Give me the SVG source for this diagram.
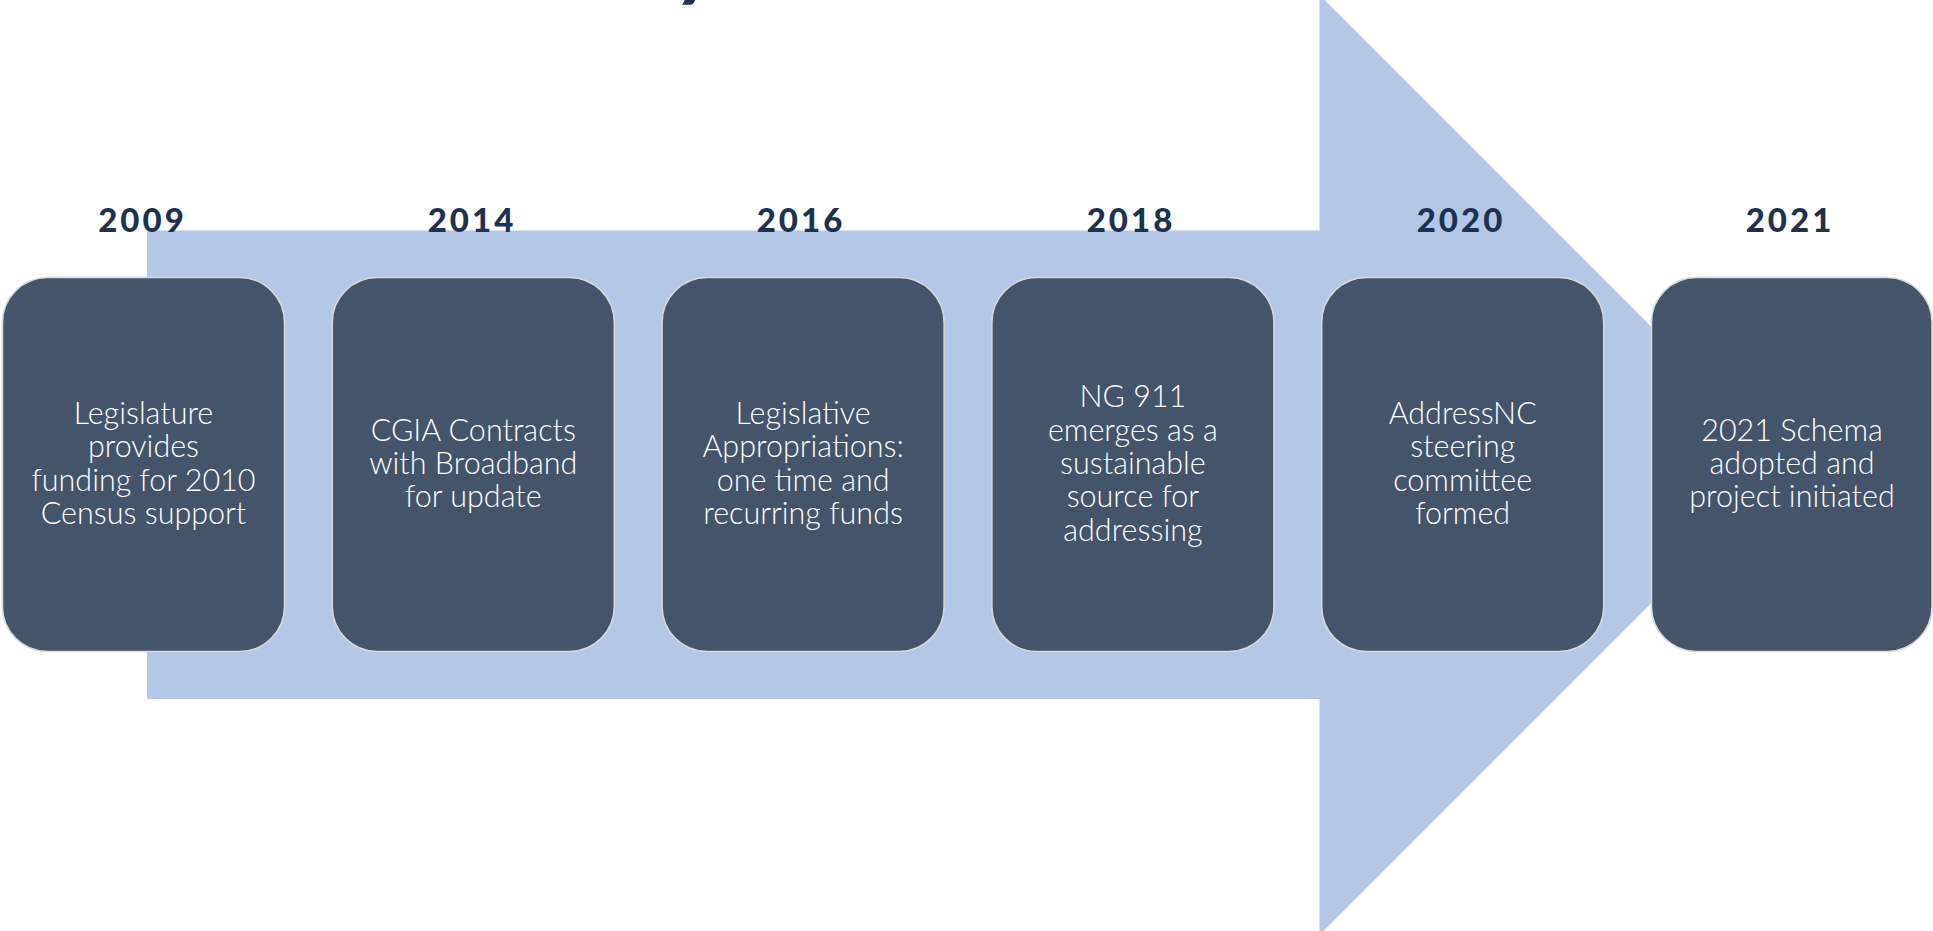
<svg xmlns="http://www.w3.org/2000/svg" width="1933" height="931" viewBox="0 0 1933 931">
<style>
.bg{fill:#ffffff}
.arrow{fill:#B4C7E7}
.box{fill:#44546A;stroke:#D9D9D9;stroke-width:1.5}
.year{font-family:Lato,"Open Sans",sans-serif;font-weight:900;font-size:33px;fill:#1D3151;text-anchor:middle;letter-spacing:3px}
.body{font-family:Lato,"Open Sans",sans-serif;font-weight:300;font-size:30.5px;fill:#ffffff;text-anchor:middle}
.title{font-family:Lato,"Open Sans",sans-serif;font-weight:900;font-style:italic;font-size:80px;fill:#1D3151}
</style>
<rect class="bg" x="0" y="0" width="1933" height="931"/>
<text class="title" x="679" y="-9">y</text>
<g id="connectors">
<path class="arrow" d="M147,230.5 H1319.5 V-5 L1789.5,465 L1319.5,935 V699 H147 Z"/>
</g>
<g id="node-2009">
<text class="year" x="142.5" y="232">2009</text>
<rect class="box" x="2.5" y="277.5" width="282" height="374" rx="45" ry="45"/>
<text class="body"><tspan x="143.5" y="424">Legislature</tspan><tspan x="143.5" y="457.3">provides</tspan><tspan x="143.5" y="490.7">funding for 2010</tspan><tspan x="143.5" y="524">Census support</tspan></text>
</g>
<g id="node-2014">
<text class="year" x="472" y="232">2014</text>
<rect class="box" x="332.3" y="277.5" width="282" height="374" rx="45" ry="45"/>
<text class="body"><tspan x="473.3" y="440.7">CGIA Contracts</tspan><tspan x="473.3" y="474">with Broadband</tspan><tspan x="473.3" y="507.3">for update</tspan></text>
</g>
<g id="node-2016">
<text class="year" x="801" y="232">2016</text>
<rect class="box" x="662.1" y="277.5" width="282" height="374" rx="45" ry="45"/>
<text class="body"><tspan x="803.1" y="424">Legislative</tspan><tspan x="803.1" y="457.3">Appropriations:</tspan><tspan x="803.1" y="490.7">one time and</tspan><tspan x="803.1" y="524">recurring funds</tspan></text>
</g>
<g id="node-2018">
<text class="year" x="1131" y="232">2018</text>
<rect class="box" x="991.9" y="277.5" width="282" height="374" rx="45" ry="45"/>
<text class="body"><tspan x="1132.9" y="407.3">NG 911</tspan><tspan x="1132.9" y="440.7">emerges as a</tspan><tspan x="1132.9" y="474">sustainable</tspan><tspan x="1132.9" y="507.3">source for</tspan><tspan x="1132.9" y="540.7">addressing</tspan></text>
</g>
<g id="node-2020">
<text class="year" x="1461" y="232">2020</text>
<rect class="box" x="1321.7" y="277.5" width="282" height="374" rx="45" ry="45"/>
<text class="body"><tspan x="1462.7" y="424">AddressNC</tspan><tspan x="1462.7" y="457.3">steering</tspan><tspan x="1462.7" y="490.7">committee</tspan><tspan x="1462.7" y="524">formed</tspan></text>
</g>
<g id="node-2021">
<text class="year" x="1790" y="232">2021</text>
<rect class="box" x="1651.5" y="277.5" width="280.5" height="374" rx="45" ry="45"/>
<text class="body"><tspan x="1792" y="440.7">2021 Schema</tspan><tspan x="1792" y="474">adopted and</tspan><tspan x="1792" y="507.3">project initiated</tspan></text>
</g>
</svg>
